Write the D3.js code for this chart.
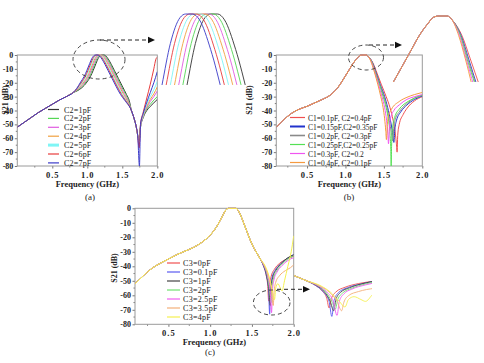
<!DOCTYPE html>
<html>
<head>
<meta charset="utf-8">
<script src="https://cdn.jsdelivr.net/npm/d3@7"></script>
<style>
  body { margin: 0; background: #fff; }
  svg { display: block; }
  text { font-family: "Liberation Serif", "DejaVu Serif", serif; fill: #222; }
</style>
</head>
<body>
<svg id="chart" width="484" height="363"></svg>
<script>
// ---- shared ticks ----
const freqTicks = [0.5, 1.0, 1.5, 2.0];
const freqMinor = [0.25, 0.75, 1.25, 1.75];
const dbTicks = [0, -10, -20, -30, -40, -50, -60, -70, -80];
const dbMinor = [-5, -15, -25, -35, -45, -55, -65, -75];

// ---- panel (a): C2 sweep ----
const namesA = ["C2=1pF", "C2=2pF", "C2=3pF", "C2=4pF", "C2=5pF", "C2=6pF", "C2=7pF"];
const colorsA = ["#333333", "#55d655", "#e05ce0", "#f0a040", "#7ff5f5", "#e83c3c", "#3a3ac8"];
const lowA = [[0, -52], [0.1, -48.5], [0.2, -45], [0.3, -41.5], [0.4, -38.5], [0.5, -35.5], [0.6, -32.5], [0.7, -30], [0.8, -27]];
const peakA = [
  [[0.85, -26], [0.995, -19.5], [1.045, -15.5], [1.085, -11], [1.125, -6], [1.155, -2.5], [1.19, -0.3], [1.21, 0], [1.235, 0], [1.26, -0.5], [1.3, -3], [1.345, -7], [1.385, -11], [1.445, -17], [1.505, -23], [1.56, -28.5], [1.6, -33]],
  [[0.85, -25.7], [0.98, -19.5], [1.03, -15.5], [1.07, -11], [1.11, -6], [1.14, -2.5], [1.175, -0.3], [1.195, 0], [1.22, 0], [1.245, -0.5], [1.285, -3], [1.33, -7], [1.37, -11], [1.43, -17], [1.49, -23], [1.55, -28.5], [1.59, -33]],
  [[0.85, -25.3], [0.965, -19.5], [1.015, -15.5], [1.055, -11], [1.095, -6], [1.125, -2.5], [1.16, -0.3], [1.18, 0], [1.205, 0], [1.23, -0.5], [1.27, -3], [1.315, -7], [1.355, -11], [1.415, -17], [1.475, -23], [1.535, -28.5], [1.58, -33]],
  [[0.85, -25], [0.95, -19.5], [1.0, -15.5], [1.04, -11], [1.08, -6], [1.11, -2.5], [1.145, -0.3], [1.165, 0], [1.19, 0], [1.215, -0.5], [1.255, -3], [1.3, -7], [1.34, -11], [1.4, -17], [1.46, -23], [1.52, -28.5], [1.57, -33]],
  [[0.85, -24.7], [0.935, -19.5], [0.985, -15.5], [1.025, -11], [1.065, -6], [1.095, -2.5], [1.13, -0.3], [1.15, 0], [1.175, 0], [1.2, -0.5], [1.24, -3], [1.285, -7], [1.325, -11], [1.385, -17], [1.445, -23], [1.505, -28.5], [1.56, -33]],
  [[0.85, -24.3], [0.92, -19.5], [0.97, -15.5], [1.01, -11], [1.05, -6], [1.08, -2.5], [1.115, -0.3], [1.135, 0], [1.16, 0], [1.185, -0.5], [1.225, -3], [1.27, -7], [1.31, -11], [1.37, -17], [1.43, -23], [1.49, -28.5], [1.55, -33]],
  [[0.85, -24], [0.905, -19.5], [0.955, -15.5], [0.995, -11], [1.035, -6], [1.065, -2.5], [1.1, -0.3], [1.12, 0], [1.145, 0], [1.17, -0.5], [1.21, -3], [1.255, -7], [1.295, -11], [1.355, -17], [1.415, -23], [1.475, -28.5], [1.54, -33]]
];
const fallA = [[1.63, -40], [1.67, -46], [1.7, -52], [1.72, -58]];
const tailA = [
  [[1.74, -62], [1.76, -52], [1.8, -45], [1.85, -40], [1.9, -37], [1.95, -34.5], [2.0, -32]],
  [[1.74, -62], [1.76, -52], [1.8, -44.5], [1.85, -39], [1.9, -35.5], [1.95, -32.5], [2.0, -30]],
  [[1.74, -66], [1.76, -52], [1.8, -44], [1.85, -38], [1.9, -33.5], [1.95, -30], [2.0, -26]],
  [[1.74, -63], [1.76, -51], [1.8, -43.5], [1.85, -37], [1.9, -32], [1.95, -28], [2.0, -23]],
  [[1.74, -64], [1.76, -51], [1.8, -43], [1.85, -35.5], [1.9, -30], [1.95, -25], [2.0, -19]],
  [[1.74, -67], [1.76, -50], [1.8, -41], [1.85, -31], [1.9, -21], [1.95, -10], [1.98, -3], [2.0, -1.5]],
  [[1.745, -80], [1.76, -50], [1.8, -42], [1.85, -34], [1.9, -27], [1.95, -20], [2.0, -12]]
];

// ---- panel (b): C1 / C2 pairs ----
const namesB = ["C1=0.1pF, C2=0.4pF", "C1=0.15pF,C2=0.35pF", "C1=0.2pF, C2=0.3pF", "C1=0.25pF,C2=0.25pF", "C1=0.3pF, C2=0.2", "C1=0.4pF, C2=0.1pF"];
const colorsB = ["#f05050", "#2233cc", "#8a8a8a", "#55e055", "#f055f0", "#f59a40"];
const lowB = [[0.1, -52], [0.2, -46.5], [0.3, -42], [0.4, -39], [0.5, -37], [0.6, -34.5], [0.7, -32], [0.8, -29], [0.9, -23.5], [1.0, -15], [1.05, -10.5], [1.1, -6], [1.15, -2.5], [1.19, -0.3], [1.22, 0], [1.27, 0], [1.3, -1.2]];
const tailB = [
  [[1.36, -6], [1.41, -13], [1.465, -21], [1.53, -30], [1.58, -38], [1.62, -47], [1.65, -57], [1.663, -64], [1.672, -70], [1.68, -58], [1.7, -50], [1.75, -43], [1.8, -38.5], [1.9, -33], [2.0, -30]],
  [[1.355, -6], [1.4, -13], [1.45, -21], [1.51, -30], [1.55, -38], [1.585, -47], [1.613, -56], [1.63, -63], [1.642, -54], [1.665, -47], [1.72, -41], [1.8, -36], [1.9, -32], [2.0, -29.5]],
  [[1.352, -6], [1.395, -13], [1.445, -21], [1.5, -30], [1.54, -38], [1.57, -47], [1.598, -56], [1.615, -62], [1.628, -53], [1.65, -46], [1.7, -41], [1.8, -35], [1.9, -31], [2.0, -29]],
  [[1.35, -6], [1.39, -13], [1.44, -21], [1.49, -30], [1.53, -38], [1.56, -47], [1.58, -57], [1.59, -68], [1.595, -80], [1.6, -66], [1.615, -52], [1.64, -45], [1.7, -39], [1.8, -34], [1.9, -31], [2.0, -29]],
  [[1.345, -6], [1.385, -13], [1.43, -21], [1.475, -30], [1.51, -38], [1.535, -47], [1.552, -57], [1.56, -64], [1.572, -52], [1.59, -45], [1.63, -40], [1.7, -36], [1.8, -32], [1.9, -30], [2.0, -28.5]],
  [[1.34, -6], [1.38, -13], [1.42, -21], [1.46, -30], [1.49, -38], [1.51, -46], [1.525, -55], [1.533, -61], [1.545, -50], [1.56, -44], [1.6, -39], [1.7, -33.5], [1.8, -30.5], [1.9, -28.5], [2.0, -27]]
];

// ---- panel (c): C3 sweep ----
const namesC = ["C3=0pF", "C3=0.1pF", "C3=1pF", "C3=2pF", "C3=2.5pF", "C3=3.5pF", "C3=4pF"];
const colorsC = ["#f05050", "#5a5af0", "#444444", "#70e070", "#f060f0", "#f4b07a", "#f5f050"];
const lowC = [[0.1, -52], [0.2, -46.5], [0.3, -41.5], [0.4, -38], [0.5, -35], [0.6, -32], [0.7, -29.5], [0.8, -27], [0.9, -23.5], [1.0, -18.5], [1.05, -15], [1.1, -10.5], [1.15, -5], [1.19, -1], [1.22, 0], [1.31, 0], [1.34, -2], [1.37, -5.5], [1.4, -10], [1.44, -16], [1.48, -22], [1.52, -27], [1.56, -31], [1.6, -35]];
const tailC = [
  [[1.64, -40], [1.67, -46], [1.69, -54], [1.7, -64], [1.71, -54], [1.73, -47], [1.77, -42], [1.83, -38], [1.9, -35.5], [2.0, -33]],
  [[1.64, -40], [1.675, -47], [1.7, -57], [1.712, -73], [1.722, -56], [1.74, -48], [1.78, -42.5], [1.84, -38.5], [1.9, -35.5], [2.0, -32]],
  [[1.645, -40], [1.68, -47], [1.705, -57], [1.72, -67], [1.73, -55], [1.75, -47.5], [1.79, -42.5], [1.85, -38], [1.92, -34.5], [2.0, -32]],
  [[1.648, -40], [1.685, -47], [1.712, -57], [1.728, -65], [1.738, -55], [1.76, -48], [1.8, -43], [1.86, -38.5], [1.93, -35], [2.0, -33]],
  [[1.65, -40], [1.69, -47], [1.718, -57], [1.735, -72], [1.745, -57], [1.765, -49], [1.8, -44], [1.86, -39.5], [1.93, -36], [2.0, -34]],
  [[1.655, -40], [1.7, -47], [1.735, -57], [1.755, -67], [1.765, -58], [1.785, -51], [1.83, -46.5], [1.9, -43], [1.96, -41], [2.0, -39]],
  [[1.66, -40], [1.705, -47], [1.745, -57], [1.77, -63], [1.785, -55], [1.81, -52], [1.84, -55], [1.86, -57], [1.89, -50], [1.93, -40], [1.97, -30], [2.0, -19]]
];

const svg = d3.select("#chart");
const line = d3.line().curve(d3.curveMonotoneX);
let clipId = 0;

function addClip(x, y, w, h) {
  const id = "clip" + (clipId++);
  svg.append("clipPath").attr("id", id)
    .append("rect").attr("x", x).attr("y", y).attr("width", w).attr("height", h);
  return `url(#${id})`;
}

// one main plot with frame, axes, curves, inset and legend
function drawPanel(p) {
  const x = d3.scaleLinear().domain(p.xDomain).range([p.left, p.right]);
  const y = d3.scaleLinear().domain([-80, 0]).range([p.bottom, p.top]);

  // x axis ticks
  const gx = svg.append("g").attr("transform", `translate(0,${p.bottom})`)
    .call(d3.axisBottom(x).tickValues(freqTicks).tickFormat(d3.format(".1f")).tickSize(2.5).tickPadding(3));
  gx.select(".domain").remove();
  gx.selectAll("line").attr("stroke", "#777");
  gx.selectAll("text").style("font-size", "8.5px").style("letter-spacing", "1px").style("font-weight", "bold").attr("fill", "#333");
  svg.append("g").selectAll("line").data(freqMinor).join("line")
    .attr("x1", d => x(d)).attr("x2", d => x(d))
    .attr("y1", p.bottom).attr("y2", p.bottom + 1.5).attr("stroke", "#777");

  // y axis ticks
  const gy = svg.append("g").attr("transform", `translate(${p.left},0)`)
    .call(d3.axisLeft(y).tickValues(dbTicks).tickFormat(d => String(d)).tickSize(2.5).tickPadding(1.5));
  gy.select(".domain").remove();
  gy.selectAll("line").attr("stroke", "#777");
  gy.selectAll("text").style("font-size", "8px").style("font-weight", "bold").attr("fill", "#333");
  svg.append("g").selectAll("line").data(dbMinor).join("line")
    .attr("x1", p.left).attr("x2", p.left - 1.5)
    .attr("y1", d => y(d)).attr("y2", d => y(d)).attr("stroke", "#777");

  // frame
  svg.append("rect")
    .attr("x", p.left).attr("y", p.top)
    .attr("width", p.right - p.left).attr("height", p.bottom - p.top)
    .attr("fill", "none").attr("stroke", "#9a9a9a").attr("stroke-width", 1);

  // curves
  svg.append("g").attr("clip-path", addClip(p.left, p.top - 1, p.right - p.left, p.bottom - p.top + 1))
    .selectAll("path").data(p.series).join("path")
    .attr("d", d => line(d.map(([f, v]) => [x(f), y(v)])))
    .attr("fill", "none")
    .attr("stroke", (d, i) => p.colors[i])
    .attr("stroke-width", 1);

  // inset: zoom of the same data
  const ix = d3.scaleLinear().domain(p.inset.xDomain).range(p.inset.xRange);
  const iy = d3.scaleLinear().domain(p.inset.yDomain).range(p.inset.yRange);
  const c = p.inset.clip;
  svg.append("g").attr("clip-path", addClip(c[0], c[1], c[2], c[3]))
    .selectAll("path").data(p.series).join("path")
    .attr("d", d => line(d.map(([f, v]) => [ix(f), iy(v)])))
    .attr("fill", "none")
    .attr("stroke", (d, i) => p.colors[i])
    .attr("stroke-width", 0.9);

  // legend
  const lg = svg.append("g");
  p.names.forEach((n, i) => {
    const ly = p.legend.y + i * p.legend.dy;
    lg.append("line")
      .attr("x1", p.legend.x).attr("x2", p.legend.x + p.legend.len)
      .attr("y1", ly).attr("y2", ly)
      .attr("stroke", p.colors[i])
      .attr("stroke-width", p.legendWidths ? p.legendWidths[i] : 1.2);
    lg.append("text")
      .attr("x", p.legend.x + p.legend.len + p.legend.gap).attr("y", ly + 3)
      .style("font-size", p.legend.fs + "px").style("letter-spacing", p.legend.ls + "px").text(n);
  });

  // axis titles and panel tag
  svg.append("text")
    .attr("transform", `translate(${p.yTitle[0]},${p.yTitle[1]}) rotate(-90)`)
    .attr("text-anchor", "middle").style("font-size", "8px").style("font-weight", "bold")
    .text("S21 (dB)");
  svg.append("text")
    .attr("x", (p.left + p.right) / 2).attr("y", p.bottom + 21)
    .attr("text-anchor", "middle").style("font-size", "8.5px").style("font-weight", "bold")
    .text("Frequency (GHz)");
  svg.append("text")
    .attr("x", p.tag[0]).attr("y", p.tag[1])
    .attr("text-anchor", "middle").style("font-size", "9px")
    .text(p.tagText);

  // dashed ellipse and arrow
  svg.append("ellipse")
    .attr("cx", p.ellipse[0]).attr("cy", p.ellipse[1])
    .attr("rx", p.ellipse[2]).attr("ry", p.ellipse[3])
    .attr("fill", "none").attr("stroke", "#333").attr("stroke-width", 0.9)
    .attr("stroke-dasharray", "4,3");
  svg.append("line")
    .attr("x1", p.arrow[0]).attr("y1", p.arrow[1])
    .attr("x2", p.arrow[2] - 6).attr("y2", p.arrow[1])
    .attr("stroke", "#222").attr("stroke-width", 1).attr("stroke-dasharray", "4,3");
  svg.append("path")
    .attr("d", `M${p.arrow[2]},${p.arrow[1]} l-7,-3.2 l0,6.4 z`)
    .attr("fill", "#111");
}

// assemble each series from its read segments
const seriesA = peakA.map((pk, i) => lowA.concat(pk, fallA, tailA[i]));
const seriesB = tailB.map(t => lowB.concat(t));
const seriesC = tailC.map(t => lowC.concat(t));

drawPanel({
  left: 17.3, right: 157.3, top: 55, bottom: 166, xDomain: [0, 2],
  series: seriesA, colors: colorsA, names: namesA,
  legendWidths: [1.2, 1.2, 1.2, 1.2, 3, 1.2, 1.2],
  legend: { x: 48, y: 109.5, dy: 8.9, len: 11, gap: 5, fs: 8, ls: 0.2 },
  yTitle: [8, 100], tag: [90, 200], tagText: "(a)",
  ellipse: [99, 59.5, 26, 19.5], arrow: [100, 40, 155],
  inset: { xDomain: [1.035, 1.33], xRange: [162, 244], yDomain: [-6, 0], yRange: [85, 14], clip: [158, 10, 90, 75] }
});

drawPanel({
  left: 276.3, right: 422.3, top: 55, bottom: 166, xDomain: [0.1, 2],
  series: seriesB, colors: colorsB, names: namesB,
  legendWidths: [1.2, 2, 1.6, 1.2, 1.2, 1.2],
  legend: { x: 290, y: 117.5, dy: 9, len: 15, gap: 3, fs: 7.5, ls: 0 },
  yTitle: [252, 100], tag: [349, 200], tagText: "(b)",
  ellipse: [366, 57.5, 17.5, 12.5], arrow: [369, 45, 402],
  inset: { xDomain: [0.94, 1.493], xRange: [392.7, 484], yDomain: [-20, 0], yRange: [82, 16], clip: [388, 10, 96, 72] }
});

drawPanel({
  left: 135, right: 293.7, top: 208.3, bottom: 324.3, xDomain: [0.1, 2],
  series: seriesC, colors: colorsC, names: namesC,
  legend: { x: 167, y: 263, dy: 9, len: 13, gap: 3, fs: 8, ls: 0.3 },
  yTitle: [117, 268], tag: [210, 355], tagText: "(c)",
  ellipse: [271.7, 302.5, 18.3, 12.5], arrow: [277, 289.3, 310],
  inset: { xDomain: [1.55, 1.88], xRange: [295, 370], yDomain: [-80, -30], yRange: [323, 276], clip: [294, 272, 78, 54] }
});
</script>
</body>
</html>
